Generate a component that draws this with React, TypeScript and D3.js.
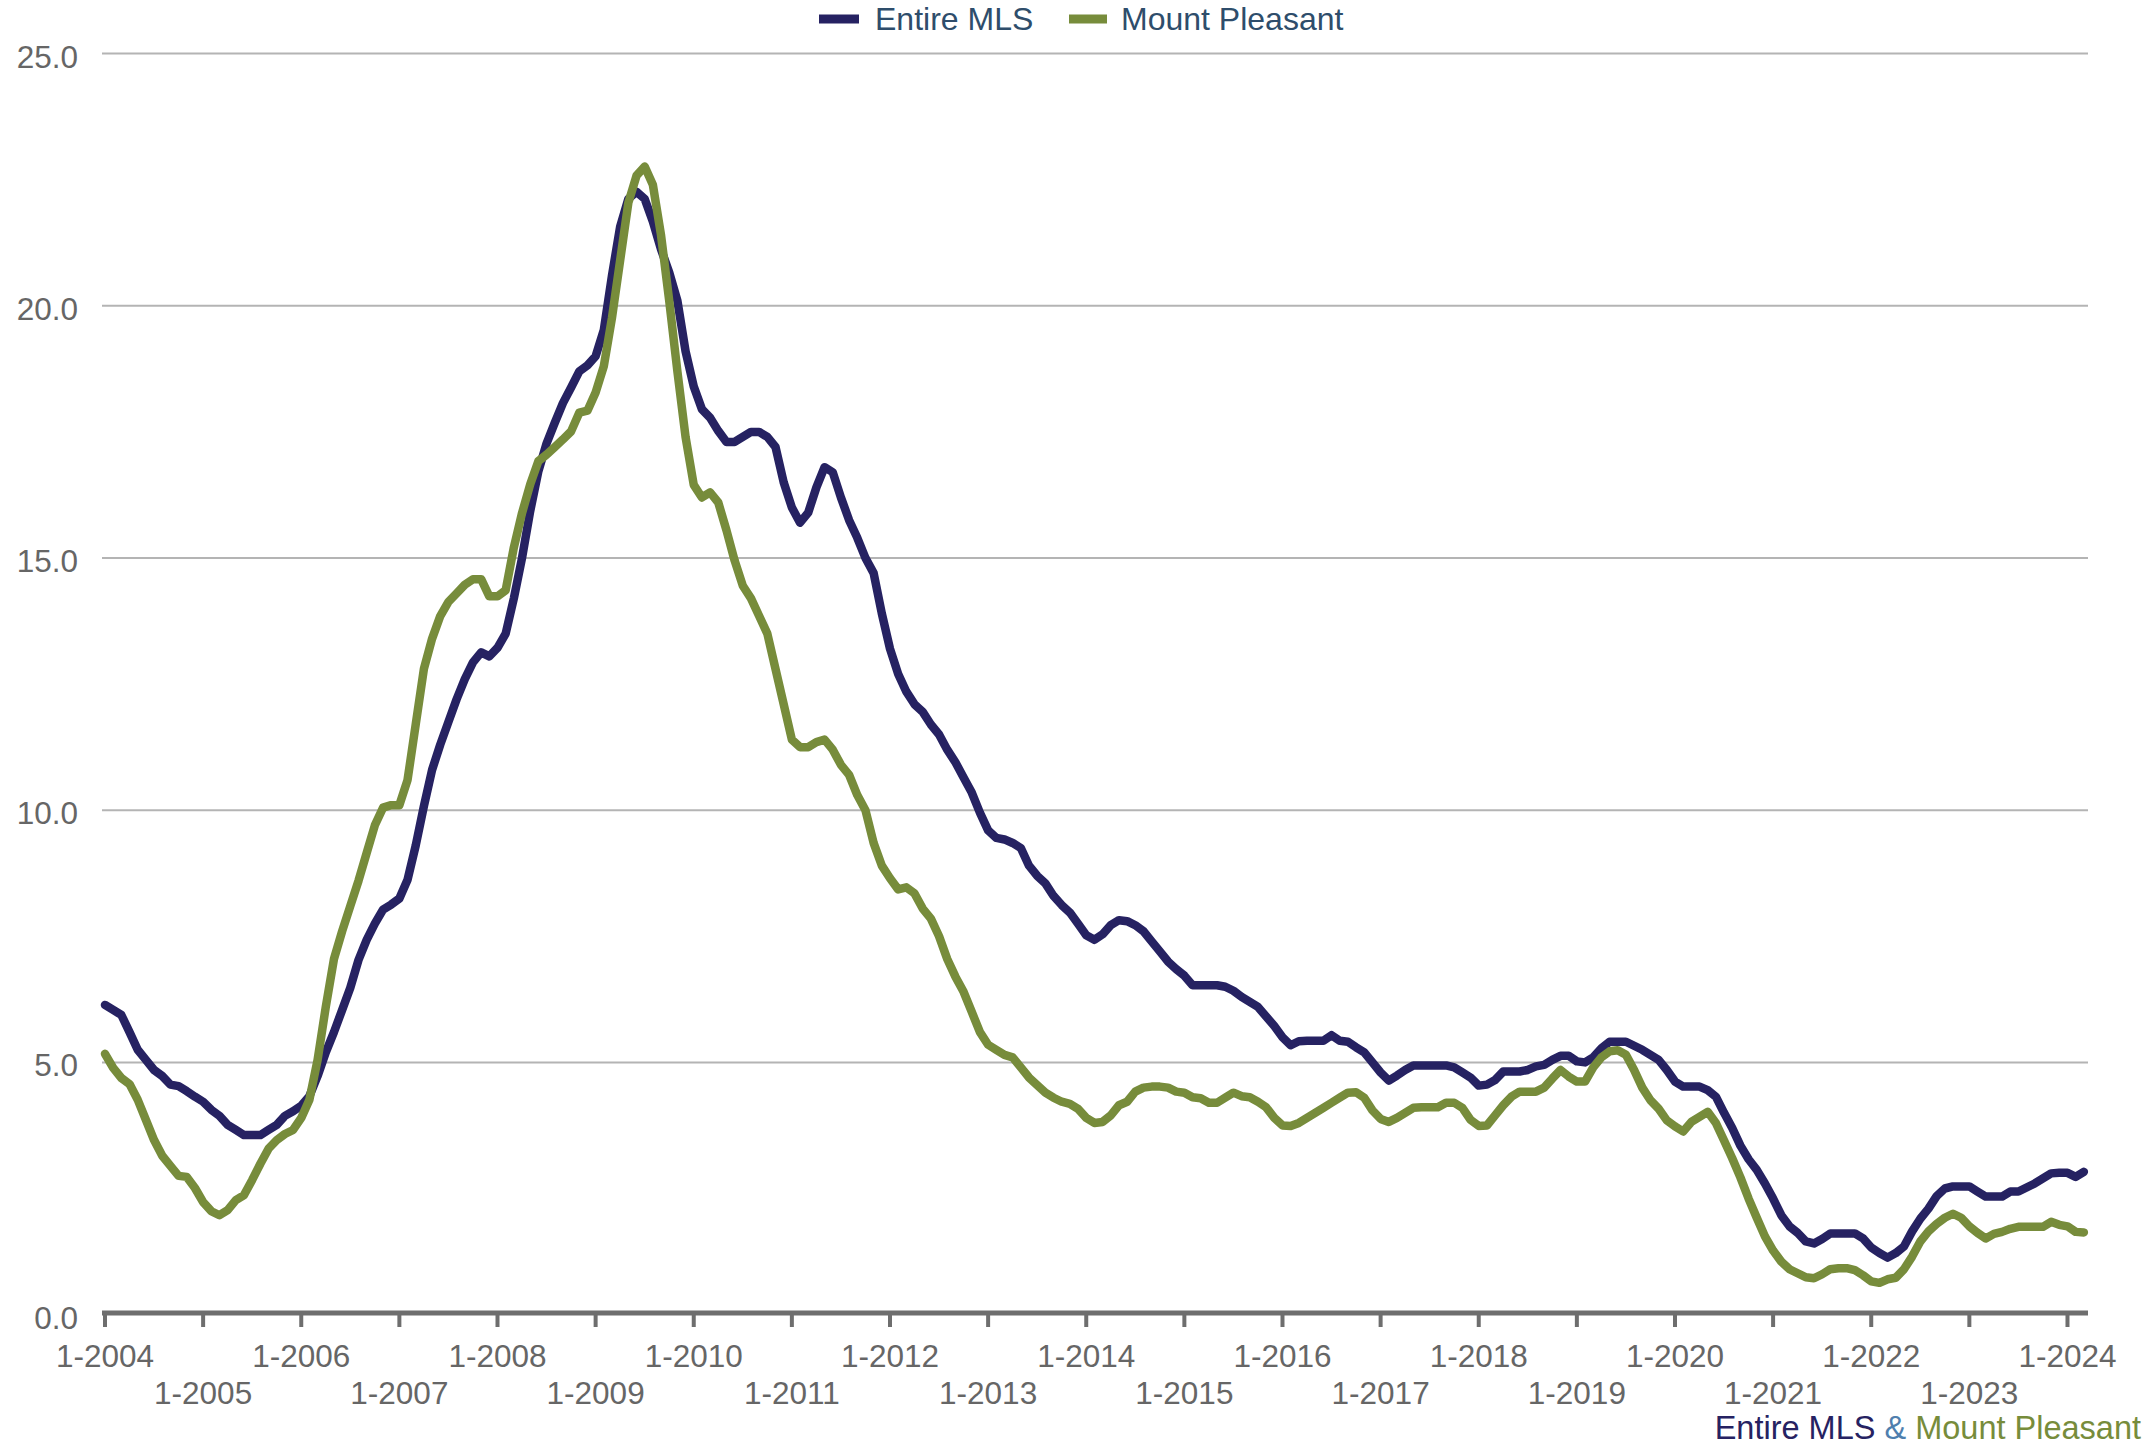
import React from "react";
import * as d3 from "d3";

const seriesNames = ["Entire MLS", "Mount Pleasant"];
const seriesColors = ["#262262", "#778c3b"];

const startYear = 2004;
const monthCount = 243; // 1-2004 .. 3-2024

const entireMLS = [
  6.14, 6.04, 5.94, 5.6, 5.25, 5.05, 4.85, 4.73, 4.56, 4.53, 4.43, 4.32,
  4.22, 4.06, 3.94, 3.76, 3.66, 3.56, 3.56, 3.56, 3.66, 3.76, 3.94, 4.03,
  4.14, 4.33, 4.73, 5.2, 5.6, 6.04, 6.48, 7.03, 7.43, 7.75, 8.03, 8.13,
  8.25, 8.62, 9.3, 10.08, 10.8, 11.3, 11.75, 12.2, 12.6, 12.93, 13.13, 13.05,
  13.22, 13.5, 14.2, 15.0, 15.93, 16.72, 17.27, 17.68, 18.07, 18.38, 18.7, 18.82,
  19.0, 19.52, 20.6, 21.57, 22.12, 22.26, 22.12, 21.67, 21.12, 20.66, 20.1, 19.1,
  18.4, 17.95, 17.78, 17.52, 17.3, 17.3, 17.4, 17.5, 17.5, 17.4, 17.2, 16.5,
  16.0, 15.7, 15.9, 16.4, 16.8, 16.7, 16.2, 15.75, 15.4, 15.0, 14.7, 13.9,
  13.2, 12.7, 12.35, 12.1, 11.95, 11.7, 11.5, 11.2, 10.95, 10.65, 10.35, 9.95,
  9.6, 9.45, 9.42, 9.35, 9.25, 8.9, 8.7, 8.55, 8.3, 8.12, 7.97, 7.75,
  7.52, 7.43, 7.54, 7.72, 7.82, 7.8, 7.72, 7.6, 7.4, 7.2, 7.0, 6.85,
  6.72, 6.53, 6.53, 6.53, 6.53, 6.5, 6.42, 6.3, 6.2, 6.1, 5.91, 5.72,
  5.5, 5.34, 5.42, 5.43, 5.43, 5.43, 5.54, 5.43, 5.41, 5.3, 5.2, 5.0,
  4.8, 4.64, 4.74, 4.85, 4.94, 4.94, 4.94, 4.94, 4.94, 4.9, 4.8, 4.7,
  4.54, 4.56, 4.65, 4.82, 4.82, 4.82, 4.85, 4.92, 4.95, 5.05, 5.13, 5.13,
  5.02, 5.0, 5.1, 5.28, 5.41, 5.41, 5.41, 5.33, 5.25, 5.15, 5.05, 4.85,
  4.62, 4.52, 4.52, 4.52, 4.45, 4.32, 4.0, 3.7, 3.35, 3.08, 2.87, 2.6,
  2.3, 1.97, 1.75, 1.62, 1.45, 1.41, 1.5, 1.61, 1.61, 1.61, 1.61, 1.51,
  1.33, 1.22, 1.13, 1.22, 1.35, 1.65, 1.9, 2.1, 2.35, 2.5, 2.54, 2.54,
  2.54, 2.44, 2.34, 2.34, 2.34, 2.44, 2.44, 2.52, 2.6, 2.7, 2.8, 2.81,
  2.81, 2.73, 2.83,
];

const mountPleasant = [
  5.17, 4.89, 4.69, 4.57, 4.26, 3.86, 3.46, 3.15, 2.95, 2.75, 2.73, 2.51,
  2.23, 2.05, 1.97, 2.07, 2.27, 2.37, 2.67, 2.99, 3.29, 3.46, 3.58, 3.66,
  3.9, 4.26, 5.05, 6.1, 7.05, 7.6, 8.1, 8.6, 9.15, 9.7, 10.05, 10.1,
  10.1, 10.6, 11.7, 12.8, 13.4, 13.85, 14.13, 14.3, 14.47, 14.58, 14.58, 14.24,
  14.24, 14.36, 15.21, 15.89, 16.46, 16.92, 17.05, 17.2, 17.35, 17.51, 17.88, 17.92,
  18.28, 18.8, 19.76, 20.9, 22.04, 22.58, 22.76, 22.4, 21.4, 20.1, 18.7, 17.4,
  16.45, 16.2, 16.3, 16.1, 15.55, 14.95, 14.45, 14.2, 13.85, 13.5, 12.8, 12.1,
  11.4, 11.25, 11.25, 11.35, 11.4, 11.2, 10.9, 10.7, 10.3, 10.0, 9.35, 8.9,
  8.65, 8.43, 8.47, 8.35, 8.05, 7.85, 7.5, 7.05, 6.7, 6.4, 6.0, 5.6,
  5.35, 5.25, 5.15, 5.1, 4.9, 4.7, 4.55, 4.4, 4.3, 4.22, 4.18, 4.08,
  3.9, 3.8, 3.82, 3.95, 4.15, 4.22, 4.42, 4.5, 4.52, 4.52, 4.5, 4.42,
  4.4, 4.31, 4.29, 4.2, 4.2, 4.3, 4.4, 4.33, 4.31, 4.22, 4.11, 3.9,
  3.75, 3.74, 3.8, 3.9, 4.0, 4.1, 4.2, 4.3, 4.4, 4.41, 4.3, 4.05,
  3.88, 3.82, 3.9, 4.0, 4.1, 4.11, 4.11, 4.11, 4.2, 4.2, 4.1, 3.86,
  3.74, 3.75, 3.95, 4.15, 4.32, 4.42, 4.42, 4.42, 4.5, 4.68, 4.85, 4.72,
  4.62, 4.62, 4.9, 5.1, 5.22, 5.24, 5.15, 4.85, 4.5, 4.25, 4.08, 3.85,
  3.73, 3.63, 3.82, 3.92, 4.02, 3.8, 3.45, 3.1, 2.72, 2.3, 1.92, 1.55,
  1.27, 1.05, 0.9, 0.82, 0.74, 0.72, 0.8, 0.9, 0.92, 0.92, 0.88, 0.78,
  0.66, 0.63, 0.7, 0.73, 0.9, 1.15, 1.45, 1.65, 1.8, 1.92, 2.0, 1.92,
  1.75, 1.62, 1.51, 1.6, 1.64, 1.7, 1.74, 1.74, 1.74, 1.74, 1.84, 1.78,
  1.75, 1.64, 1.63,
];

const yTicks = [0, 5, 10, 15, 20, 25];
const yearTicks = d3.range(0, 21).map((i) => startYear + i); // 2004..2024

const W = 2154;
const H = 1445;
const FONT = "'Liberation Sans', Arial, sans-serif";

export default function App() {
  const x = d3.scaleLinear().domain([0, monthCount - 1]).range([105, 105 + 8.177 * (monthCount - 1)]);
  const y = d3.scaleLinear().domain([0, 25]).range([1314.6, 53.6]);
  const plotLeft = 102;
  const plotRight = 2088;

  const line = d3
    .line<number>()
    .x((_, i) => x(i))
    .y((d) => y(d))
    .curve(d3.curveLinear);

  const series = [entireMLS, mountPleasant];

  return (
    <svg
      width={W}
      height={H}
      viewBox={`0 0 ${W} ${H}`}
      style={{ position: "absolute", left: 0, top: 0, display: "block", background: "#fff" }}
      fontFamily={FONT}
    >
      <rect x={0} y={0} width={W} height={H} fill="#fff" />
      {/* gridlines */}
      {yTicks.filter((t) => t > 0).map((t) => (
        <line key={t} x1={plotLeft} x2={plotRight} y1={y(t)} y2={y(t)} stroke="#b4b4b4" strokeWidth={2} />
      ))}
      {/* y labels */}
      {yTicks.map((t) => (
        <text key={t} x={78} y={y(t) + 14} textAnchor="end" fontSize={31.5} fill="#666">
          {t.toFixed(1)}
        </text>
      ))}
      {/* x axis */}
      <line x1={plotLeft} x2={plotRight} y1={1313} y2={1313} stroke="#6e6e6e" strokeWidth={5} />
      {yearTicks.map((yr, i) => {
        const xx = x(i * 12);
        return (
          <g key={yr}>
            <line x1={xx} x2={xx} y1={1313} y2={1327} stroke="#6e6e6e" strokeWidth={4} />
            <text x={xx} y={i % 2 === 0 ? 1367 : 1404} textAnchor="middle" fontSize={31.5} fill="#666">
              {`1-${yr}`}
            </text>
          </g>
        );
      })}
      {/* lines */}
      {series.map((s, i) => (
        <path
          key={i}
          d={line(s) || ""}
          fill="none"
          stroke={seriesColors[i]}
          strokeWidth={8.5}
          strokeLinejoin="round"
          strokeLinecap="round"
        />
      ))}
      {/* legend */}
      <rect x={819} y={14.5} width={40} height={9} fill={seriesColors[0]} />
      <text x={875} y={30} fontSize={32} fill="#2e4d6b">{seriesNames[0]}</text>
      <rect x={1069} y={14.5} width={38} height={9} fill={seriesColors[1]} />
      <text x={1121} y={30} fontSize={32} fill="#2e4d6b">{seriesNames[1]}</text>
      {/* footer */}
      <text x={2141} y={1439} textAnchor="end" fontSize={32.5}>
        <tspan fill={seriesColors[0]}>{seriesNames[0]}</tspan>
        <tspan fill="#4f7fae">{" & "}</tspan>
        <tspan fill="#778c3b">{seriesNames[1]}</tspan>
      </text>
    </svg>
  );
}
